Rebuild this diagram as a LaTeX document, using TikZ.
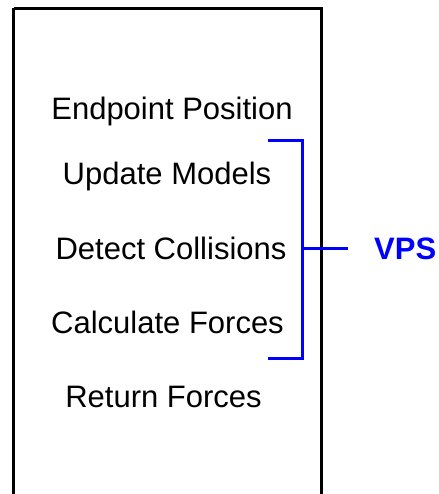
\documentclass[tikz,border=0pt]{standalone}
\usepackage{fontspec}
\setmainfont{Liberation Sans}
\begin{document}
\begin{tikzpicture}[x=1pt,y=-1pt,
  step label/.style={anchor=base,inner sep=0pt,font=\fontsize{31}{36}\selectfont,text=black},
  frame/.style={draw=black,line width=3pt},
  bracket/.style={draw=blue,line width=3pt,line cap=rect},
  tag/.style={anchor=base west,inner sep=0pt,font=\fontsize{31}{36}\selectfont\bfseries,text=blue}]
  \useasboundingbox (0,0) rectangle (438,494);
  % outer frame, running past the lower edge
  \draw[frame] (13.5,8.5) -- (321,8.5) -- (321,510) (13.5,8.5) -- (13.5,510);
  % pipeline steps
  \node[step label] (s1) at (172,120) {Endpoint Position};
  \node[step label] (s2) at (167,185) {Update Models};
  \node[step label] (s3) at (171,259) {Detect Collisions};
  \node[step label] (s4) at (167.5,333) {Calculate Forces};
  \node[step label] (s5) at (163.5,407) {Return Forces};
  % bracket grouping the middle steps
  \coordinate (bt) at (268,141);
  \coordinate (bb) at (268,358);
  \coordinate (bm) at (302,248);
  \coordinate (tip) at (348,248);
  \node[tag] (vps) at (374,259) {VPS};
  \draw[bracket,line cap=butt] (bt) -| (bm) |- (bb);
  \draw[bracket,line cap=butt] (bm) -- (tip);
\end{tikzpicture}
\end{document}
